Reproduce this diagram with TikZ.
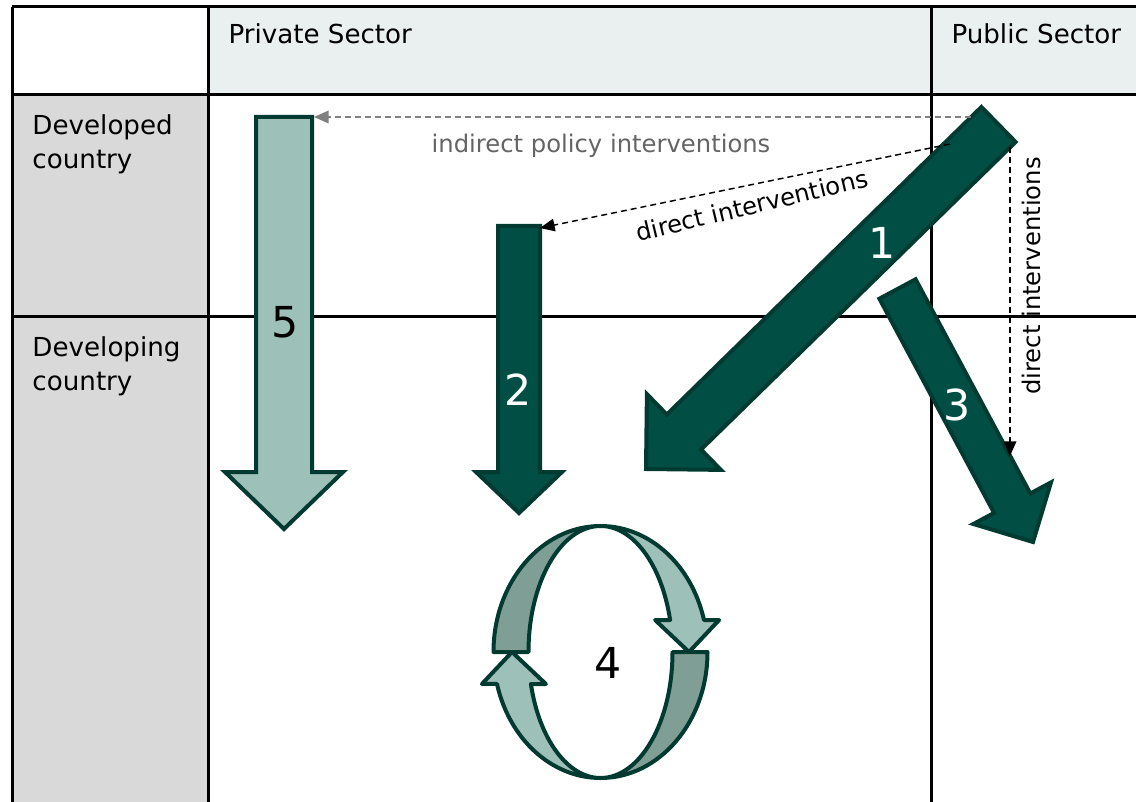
\documentclass[tikz,border=0pt]{standalone}
\usepackage{fontspec}
\setmainfont{DejaVu Sans}
\usetikzlibrary{arrows.meta}
\tikzset{every picture/.style={line width=0.75pt}}
\definecolor{deepgreen}{RGB}{0,78,68}
\definecolor{edgegreen}{RGB}{0,58,49}
\definecolor{palegreen}{RGB}{157,192,184}
\definecolor{shadegreen}{RGB}{127,159,150}
\definecolor{headfill}{RGB}{233,240,239}
\definecolor{sidefill}{RGB}{217,217,217}
\definecolor{hintgrey}{RGB}{128,128,128}
\definecolor{hinttext}{RGB}{100,100,100}

\begin{document}
\begin{tikzpicture}[x=0.75pt,y=0.75pt,yscale=-1,xscale=1,
  gridline/.style={line width=2.25pt},
  headtext/.style={font=\fontsize{19.6}{25.5}\selectfont,inner sep=0pt},
  numtext/.style={font=\fontsize{32}{36}\selectfont,inner sep=0pt},
  notetext/.style={font=\fontsize{18.2}{21}\selectfont,inner sep=0pt},
  darkarrow/.style={fill=deepgreen,draw=edgegreen,line width=3pt},
  lightarrow/.style={fill=palegreen,draw=edgegreen,line width=3pt},
  shadeband/.style={fill=shadegreen,draw=edgegreen,line width=3pt,line join=round},
  paleband/.style={fill=palegreen,draw=edgegreen,line width=3pt,line join=round},
  hintline/.style={draw=hintgrey,line width=1.1pt,dash pattern=on 4.5pt off 3pt,-{Triangle[length=11pt,width=9.5pt]}},
  actline/.style={draw=black,line width=1.1pt,dash pattern=on 4.5pt off 3pt,-{Triangle[length=11pt,width=9.5pt]}}]
\useasboundingbox (0,0) rectangle (1136,802);

%Shape: Rectangle [header row]
\fill [headfill] (208,7) rectangle (1136,95);
%Shape: Rectangle [side column]
\fill [sidefill] (12,95) rectangle (208,802);

%Straight Lines [table]
\draw [gridline] (12,7) -- (1136,7);
\draw [gridline] (12,95) -- (1136,95);
\draw [gridline] (12,317) -- (1136,317);
\draw [gridline] (12,7) -- (12,802);
\draw [gridline] (208,7) -- (208,802);
\draw [gridline] (931,7) -- (931,802);

% Text Node
\node (privhead) [headtext,anchor=base west] at (228,44) {Private Sector};
% Text Node
\node (pubhead) [headtext,anchor=base west] at (951,44) {Public Sector};
% Text Node
\node (devrow) [headtext,anchor=north west,align=left] at (32,114) {Developed\\country};
% Text Node
\node (dvgrow) [headtext,anchor=north west,align=left] at (32,336) {Developing\\country};

%Shape: Down Arrow [5]
\draw [lightarrow] (256,117) -- (312,117) -- (312,472) -- (343,472) -- (284,529) -- (225,472) -- (256,472) -- cycle;
%Shape: Down Arrow [2]
\draw [darkarrow] (498,226) -- (540,226) -- (540,472) -- (562,472) -- (519,513) -- (476,472) -- (498,472) -- cycle;
%Shape: Arrow [1]
\draw [darkarrow] (981.4,107) -- (1015.6,142) -- (701,449.5) -- (720.9,469.9) -- (646,469) -- (646.9,394.1) -- (666.8,414.5) -- cycle;
%Shape: Arrow [3]
\draw [darkarrow] (879.4,298.7) -- (915.6,279.3) -- (1030.3,493.5) -- (1051,482.4) -- (1033,542) -- (973.4,524) -- (994.1,512.9) -- cycle;

%Shape: Circular Arrows [4]
\draw [shadeband] (600.5,526) arc[start angle=270,end angle=180,x radius=107,y radius=126] -- (528.5,652) arc[start angle=180,end angle=270,x radius=72,y radius=126] -- cycle;
\draw [shadeband] (600.5,778) arc[start angle=90,end angle=0,x radius=107,y radius=126] -- (672.5,652) arc[start angle=0,end angle=90,x radius=72,y radius=126] -- cycle;
\draw [paleband] (600.5,778) arc[start angle=90,end angle=165.3,x radius=107,y radius=126] -- (481.9,684) -- (512,652) -- (545.9,684) -- (530.9,684) arc[start angle=165.3,end angle=90,x radius=72,y radius=126] -- cycle;
\draw [paleband] (600.5,526) arc[start angle=270,end angle=345.3,x radius=107,y radius=126] -- (719.1,620) -- (689,652) -- (655.1,620) -- (670.1,620) arc[start angle=345.3,end angle=270,x radius=72,y radius=126] -- cycle;

% Text Node
\node (num1) [numtext,text=white] at (882,243) {1};
% Text Node
\node (num2) [numtext,text=white] at (518,390) {2};
% Text Node
\node (num3) [numtext,text=white] at (957,405) {3};
% Text Node
\node (num4) [numtext] at (608,663) {4};
% Text Node
\node (num5) [numtext] at (285,322) {5};

% Connector ends
\coordinate (a1left) at (971,117);
\coordinate (a1mid) at (950,144);
\coordinate (a1right) at (1010,147);
\coordinate (a5corner) at (314,117);
\coordinate (a2corner) at (540,228);
\coordinate (a3side) at (1010,456);

%Straight Lines [dashed]
\draw [hintline] (a1left) -- (a5corner);
\draw [actline] (a1mid) -- (a2corner);
\draw [actline] (a1right) -- (a3side);

% Text Node
\node (indirect) [notetext,text=hinttext,anchor=base] at (601,153) {indirect policy interventions};
% Text Node
\node (directa) [notetext,anchor=base,rotate=13.5] at (754,214) {direct interventions};
% Text Node
\node (directb) [notetext,anchor=base,rotate=90] at (1040,276) {direct interventions};

\end{tikzpicture}
\end{document}
